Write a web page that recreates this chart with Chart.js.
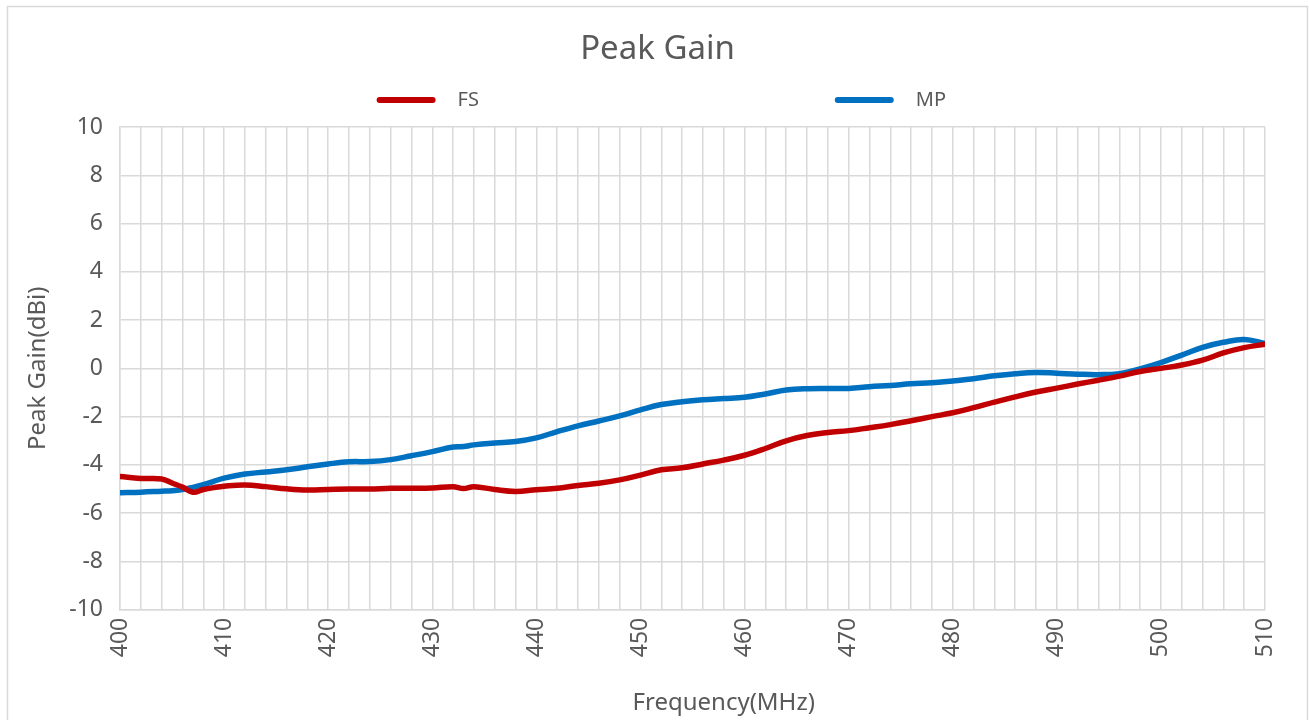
<!DOCTYPE html>
<html>
<head>
<meta charset="utf-8">
<script src="https://cdn.jsdelivr.net/npm/chart.js@4.4.1/dist/chart.umd.min.js"></script>
<style>
  html, body { margin: 0; padding: 0; background: #fff; }
  #wrap { width: 1309px; height: 720px; position: relative; }
</style>
</head>
<body>
<div id="wrap"><canvas id="gainChart" width="1309" height="720"></canvas></div>
<script>
// frequency points (MHz)
const freq = [400, 402, 404, 405, 406, 407, 408, 409, 410, 412, 414, 416, 418, 420, 422, 424, 426, 428, 430, 432,
    433, 434, 436, 438, 440, 442, 444, 446, 448, 450, 452, 454, 456, 458, 460, 462, 464, 466, 468, 470,
    472, 474, 476, 478, 480, 482, 484, 486, 488, 490, 492, 494, 496, 498, 500, 502, 504, 506, 508, 510];

// peak gain (dBi)
const fsGain = [-4.48, -4.56, -4.58, -4.75, -4.92, -5.13, -5.02, -4.94, -4.88, -4.83, -4.9, -4.99, -5.04, -5.02, -5.0, -5.0, -4.97, -4.97, -4.96, -4.9,
    -4.98, -4.9, -5.02, -5.1, -5.03, -4.97, -4.85, -4.76, -4.62, -4.42, -4.2, -4.12, -3.96, -3.8, -3.6, -3.32, -3.0, -2.78, -2.66, -2.58,
    -2.46, -2.33, -2.17, -2.0, -1.84, -1.63, -1.4, -1.18, -0.98, -0.82, -0.65, -0.49, -0.32, -0.13, 0.0, 0.14, 0.34, 0.64, 0.86, 1.0];
const mpGain = [-5.15, -5.13, -5.09, -5.07, -5.02, -4.93, -4.82, -4.68, -4.55, -4.38, -4.29, -4.2, -4.08, -3.96, -3.87, -3.86, -3.78, -3.62, -3.45, -3.26,
    -3.24, -3.17, -3.09, -3.03, -2.88, -2.62, -2.38, -2.18, -1.97, -1.72, -1.5, -1.38, -1.3, -1.25, -1.2, -1.06, -0.9, -0.84, -0.83, -0.83,
    -0.76, -0.71, -0.64, -0.6, -0.52, -0.43, -0.31, -0.22, -0.17, -0.2, -0.24, -0.26, -0.22, -0.02, 0.24, 0.55, 0.87, 1.08, 1.2, 1.03];

const seriesNames = ['FS', 'MP'];
const seriesColors = ['#c00000', '#0070c0'];
const xTicks = [400, 410, 420, 430, 440, 450, 460, 470, 480, 490, 500, 510];
const yTicks = [-10, -8, -6, -4, -2, 0, 2, 4, 6, 8, 10];
const chartTitle = 'Peak Gain';

const textColor = '#595959';
const gridColor = '#d9d9d9';
const fontFamily = '"Noto Sans", "DejaVu Sans", sans-serif';

function toPoints(ys) {
    return freq.map((f, i) => ({ x: f, y: ys[i] }));
}

// outer frame like the office chart border
const framePlugin = {
    id: 'frame',
    beforeDraw(chart) {
        const c = chart.ctx;
        c.save();
        c.fillStyle = '#fff';
        c.fillRect(0, 0, chart.width, chart.height);
        c.strokeStyle = gridColor;
        c.lineWidth = 1.5;
        c.strokeRect(7.5, 6.5, chart.width - 9, chart.height + 10);
        c.restore();
    }
};

// title centred on the whole canvas + legend with wide spacing
const headerPlugin = {
    id: 'header',
    afterDraw(chart) {
        const c = chart.ctx;
        c.save();
        c.fillStyle = textColor;
        c.textAlign = 'center';
        c.textBaseline = 'middle';
        c.font = '33px ' + fontFamily;
        c.fillText(chartTitle, chart.width / 2 + 3, 50);

        const slots = [0.29, 0.64];
        const y = 100;
        c.textAlign = 'left';
        c.font = '20px ' + fontFamily;
        chart.data.datasets.forEach((ds, i) => {
            const x0 = chart.width * slots[i];
            c.strokeStyle = ds.borderColor;
            c.lineWidth = 6;
            c.lineCap = 'round';
            c.beginPath();
            c.moveTo(x0, y);
            c.lineTo(x0 + 53, y);
            c.stroke();
            c.fillText(ds.label, x0 + 78, y);
        });
        c.restore();
    }
};

const ctx = document.getElementById('gainChart').getContext('2d');
new Chart(ctx, {
    type: 'line',
    data: {
        datasets: [
            {
                label: seriesNames[0],
                data: toPoints(fsGain),
                borderColor: seriesColors[0],
                backgroundColor: seriesColors[0],
                borderWidth: 5.5,
                borderCapStyle: 'round',
                pointRadius: 0,
                tension: 0.4
            },
            {
                label: seriesNames[1],
                data: toPoints(mpGain),
                borderColor: seriesColors[1],
                backgroundColor: seriesColors[1],
                borderWidth: 5.5,
                borderCapStyle: 'round',
                pointRadius: 0,
                tension: 0.4
            }
        ]
    },
    options: {
        responsive: false,
        animation: false,
        layout: {
            padding: { left: 24, right: 44, top: 127, bottom: 2 }
        },
        plugins: {
            legend: { display: false },
            tooltip: { enabled: false },
            title: { display: false }
        },
        scales: {
            x: {
                type: 'linear',
                min: 400,
                max: 510,
                grid: { color: gridColor, lineWidth: 1.5, drawTicks: false },
                border: { color: gridColor, width: 1.5 },
                ticks: {
                    stepSize: 2,
                    autoSkip: false,
                    minRotation: 90,
                    maxRotation: 90,
                    padding: 8,
                    color: textColor,
                    font: { family: fontFamily, size: 23 },
                    callback: (v) => xTicks.includes(v) ? String(v) : ''
                },
                title: {
                    display: true,
                    // leading spaces nudge the title right, as in the original
                    text: ' '.repeat(10) + 'Frequency(MHz)',
                    color: textColor,
                    font: { family: fontFamily, size: 24 },
                    padding: { top: 24, bottom: 0 }
                }
            },
            y: {
                min: -10,
                max: 10,
                afterFit: (scale) => { scale.width = 96; },
                grid: { color: gridColor, lineWidth: 1.5, drawTicks: false },
                border: { color: gridColor, width: 1.5 },
                ticks: {
                    stepSize: 2,
                    padding: 17,
                    color: textColor,
                    font: { family: fontFamily, size: 23 },
                    callback: (v) => yTicks.includes(v) ? String(v) : ''
                },
                title: {
                    display: true,
                    text: 'Peak Gain(dBi)',
                    color: textColor,
                    font: { family: fontFamily, size: 24 },
                    padding: { top: 0, bottom: 17 }
                }
            }
        }
    },
    plugins: [framePlugin, headerPlugin]
});
</script>
</body>
</html>
